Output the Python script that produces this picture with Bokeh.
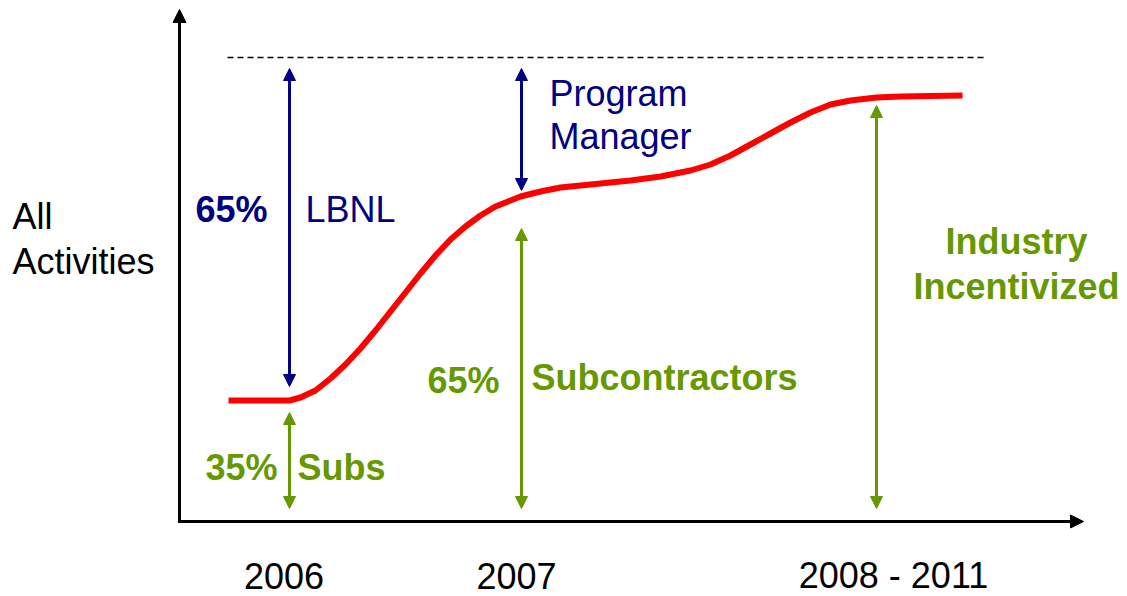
from bokeh.plotting import figure
from bokeh.models import Range1d, Arrow, NormalHead, ColumnDataSource
from bokeh.core.properties import value
from bokeh.embed import file_html
from bokeh.resources import INLINE

# ---- data (diagram coordinates: x to the right, y measured downward) ----
curve_x = [228, 289, 300, 315, 330, 345, 360, 375, 390, 405, 420, 435, 450, 465, 480, 495, 510, 520,
           540, 560, 580, 600, 630, 660, 690, 710, 730, 750, 770, 790, 810, 830, 850, 876, 900, 930, 962]
curve_y = [400, 400, 397, 390, 378, 364, 348, 330, 311, 292, 273, 255, 239, 226, 215, 206, 200, 196,
           191, 187, 185, 183, 180, 176, 170, 164, 155, 144, 133, 122, 112, 104, 100, 97, 96, 95.5, 95]

ceiling_y = 57
ceiling_x = [227, 985]

navy_x = [289, 521]
navy_top = [68, 68]
navy_bottom = [386, 190]

green_x = [289, 521, 876]
green_top = [412, 228, 105]
green_bottom = [508, 508, 508]

axis_origin = (179, 521)
axis_x_end = 1083
axis_y_end = 9

year_labels = ["2006", "2007", "2008 - 2011"]
year_x = [283.5, 516, 893]
year_y = 575

navy_pct = ["65%"]
navy_pct_x = [195]
navy_pct_y = [209]

navy_texts = ["LBNL", "Program", "Manager"]
navy_text_x = [305, 549, 549]
navy_text_y = [209, 93, 136]

green_texts = ["Subcontractors", "Subs", "65%", "35%"]
green_text_x = [531, 297, 427, 205]
green_text_y = [377, 467, 380, 467]

industry_texts = ["Industry", "Incentivized"]
industry_x = [1016, 1016]
industry_y = [241, 286]

ylabel_texts = ["All", "Activities"]
ylabel_x = [12, 12]
ylabel_y = [216, 261]

NAVY = "#000080"
GREEN = "#669900"
RED = "#ff0000"
FONT = value("Liberation Sans")
FS = "36px"

W, H = 1127, 596
p = figure(width=W, height=H, output_backend="svg", toolbar_location=None,
           x_range=Range1d(0, W), y_range=Range1d(H, 0),
           x_axis_type=None, y_axis_type=None, min_border=0,
           outline_line_color=None, background_fill_color="white",
           border_fill_color="white")
p.grid.visible = False

# axes with arrow heads
p.add_layout(Arrow(end=NormalHead(size=13, fill_color="black", line_color="black"),
                   x_start=axis_origin[0], y_start=axis_origin[1] + 1.5,
                   x_end=axis_origin[0], y_end=axis_y_end,
                   line_color="black", line_width=3))
p.add_layout(Arrow(end=NormalHead(size=13, fill_color="black", line_color="black"),
                   x_start=axis_origin[0] - 1.5, y_start=axis_origin[1],
                   x_end=axis_x_end, y_end=axis_origin[1],
                   line_color="black", line_width=3))

# dashed ceiling
p.line(ceiling_x, [ceiling_y, ceiling_y], line_color="black", line_width=1.3, line_dash="6 4")

# red S-curve
p.line(curve_x, curve_y, line_color=RED, line_width=6, line_join="round")

# double-headed arrows
navy_src = ColumnDataSource(dict(x=navy_x, y0=navy_top, y1=navy_bottom))
p.add_layout(Arrow(start=NormalHead(size=12, fill_color=NAVY, line_color=NAVY),
                   end=NormalHead(size=12, fill_color=NAVY, line_color=NAVY),
                   x_start="x", y_start="y0", x_end="x", y_end="y1", source=navy_src,
                   line_color=NAVY, line_width=3))
green_src = ColumnDataSource(dict(x=green_x, y0=green_top, y1=green_bottom))
p.add_layout(Arrow(start=NormalHead(size=12, fill_color=GREEN, line_color=GREEN),
                   end=NormalHead(size=12, fill_color=GREEN, line_color=GREEN),
                   x_start="x", y_start="y0", x_end="x", y_end="y1", source=green_src,
                   line_color=GREEN, line_width=3))

# texts
p.text(x=navy_pct_x, y=navy_pct_y, text=navy_pct, text_font=FONT, text_font_size=FS,
       text_font_style="bold", text_color=NAVY, text_baseline="alphabetic", text_align="left")
p.text(x=navy_text_x, y=navy_text_y, text=navy_texts, text_font=FONT, text_font_size=FS,
       text_color=NAVY, text_baseline="alphabetic", text_align="left")
p.text(x=green_text_x, y=green_text_y, text=green_texts, text_font=FONT, text_font_size=FS,
       text_font_style="bold", text_color=GREEN, text_baseline="alphabetic", text_align="left")
p.text(x=industry_x, y=industry_y, text=industry_texts, text_font=FONT, text_font_size=FS,
       text_font_style="bold", text_color=GREEN, text_baseline="alphabetic", text_align="center")
p.text(x=ylabel_x, y=ylabel_y, text=ylabel_texts, text_font=FONT, text_font_size=FS,
       text_color="black", text_baseline="alphabetic", text_align="left")
p.text(x=year_x, y=[year_y] * 3, text=year_labels, text_font=FONT, text_font_size=FS,
       text_color="black", text_baseline="alphabetic", text_align="center")

open("out.html", "w").write(file_html(p, INLINE))
